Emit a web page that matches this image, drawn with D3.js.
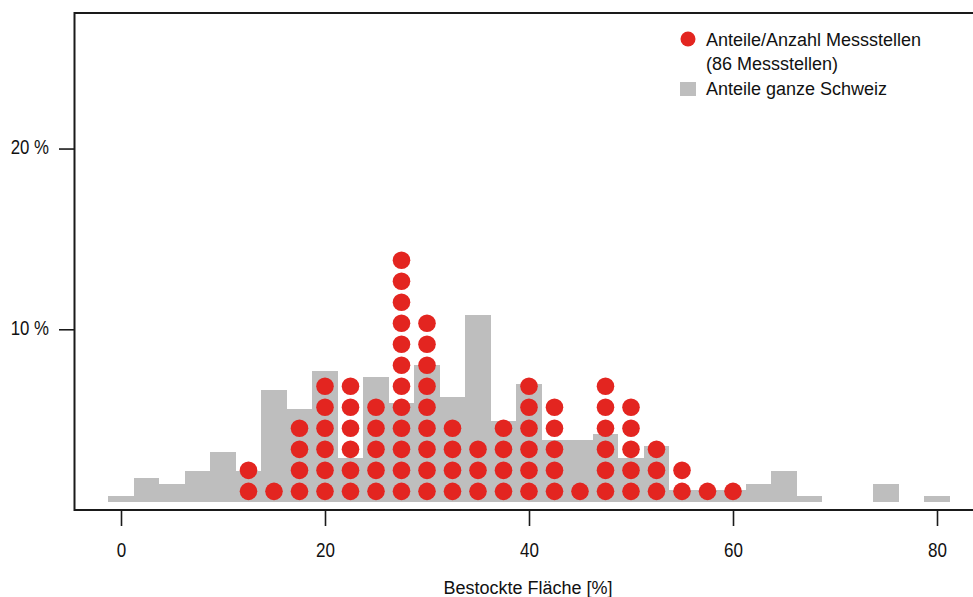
<!DOCTYPE html>
<html>
<head>
<meta charset="utf-8">
<script src="https://cdn.jsdelivr.net/npm/d3@7"></script>
<style>
  body { margin: 0; background: #fff; }
  text { font-family: "Liberation Sans", Arial, sans-serif; fill: #111; }
</style>
</head>
<body>
<div id="chart"></div>
<script>
// shares of the whole country per 2.5% bin of forest cover (bar heights, %)
const binCenters = [0, 2.5, 5, 7.5, 10, 12.5, 15, 17.5, 20, 22.5, 25, 27.5, 30, 32.5, 35, 37.5,
  40, 42.5, 45, 47.5, 50, 52.5, 55, 57.5, 60, 62.5, 65, 67.5, 70, 72.5, 75, 77.5, 80];
const swissShares = [0.32, 1.32, 0.99, 1.71, 2.76, 1.71, 6.19, 5.14, 7.24, 2.44, 6.93, 5.47, 7.57, 5.8, 10.33, 4.48,
  6.52, 3.42, 3.42, 3.76, 2.43, 3.09, 0.65, 0.65, 0.65, 0.99, 1.71, 0.32, 0, 0, 0.99, 0, 0.32];

// number of measuring sites per bin (86 in total)
const siteBins = [12.5, 15, 17.5, 20, 22.5, 25, 27.5, 30, 32.5, 35, 37.5, 40, 42.5, 45, 47.5, 50, 52.5, 55, 57.5, 60];
const siteCounts = [2, 1, 4, 6, 6, 5, 12, 9, 4, 3, 4, 6, 5, 1, 6, 5, 3, 2, 1, 1];
const totalSites = 86;

const xTicks = [0, 20, 40, 60, 80];
const yTicks = [10, 20];

const width = 973, height = 597;
const baseline = 0.45;   // bars and dots start slightly above the box bottom
const binWidth = 2.5;
const red = "#e32520", grey = "#bebebe";

const x = d3.scaleLinear().domain([0, 80]).range([121, 937]);
const y = d3.scaleLinear().domain([0, 27.5]).range([510, 13]);

const svg = d3.select("#chart").append("svg")
  .attr("width", width)
  .attr("height", height);

// squeeze tick labels horizontally (the original font is a narrow one)
function condense(sel, f) {
  sel.each(function () {
    const w = this.getComputedTextLength();
    d3.select(this).attr("textLength", w * f).attr("lengthAdjust", "spacingAndGlyphs");
  });
}

// grey bars
svg.append("g").selectAll("rect")
  .data(binCenters.map((c, i) => ({ c: c, v: swissShares[i] })).filter(d => d.v > 0))
  .enter().append("rect")
  .attr("x", d => x(d.c - binWidth / 2))
  .attr("width", d => x(d.c + binWidth / 2) - x(d.c - binWidth / 2))
  .attr("y", d => y(baseline + d.v))
  .attr("height", d => y(baseline) - y(baseline + d.v))
  .attr("fill", grey)
  .attr("shape-rendering", "crispEdges");

// red dots, one per site
let dots = [];
siteBins.forEach((b, i) => {
  for (let k = 1; k <= siteCounts[i]; k++) dots.push({ b: b, k: k });
});
svg.append("g").selectAll("circle")
  .data(dots)
  .enter().append("circle")
  .attr("cx", d => x(d.b))
  .attr("cy", d => y(baseline + (d.k - 0.5) * 100 / totalSites))
  .attr("r", 8.8)
  .attr("fill", red);

// box
svg.append("path")
  .attr("d", "M980,13H74.5V510H980")
  .attr("fill", "none")
  .attr("stroke", "#1a1a1a")
  .attr("stroke-width", 2);

// x axis
const xAxis = svg.append("g")
  .attr("transform", "translate(0,510)")
  .call(d3.axisBottom(x).tickValues(xTicks).tickSize(16).tickPadding(16).tickFormat(d3.format("d")));
xAxis.select(".domain").remove();
xAxis.selectAll(".tick line").attr("stroke", "#1a1a1a").attr("stroke-width", 1.6);
xAxis.selectAll(".tick text").attr("font-size", 20.5).attr("fill", "#111")
  .attr("font-family", "Liberation Sans, Arial, sans-serif")
  .call(condense, 0.83);

// y axis
const yAxis = svg.append("g")
  .attr("transform", "translate(75,0)")
  .call(d3.axisLeft(y).tickValues(yTicks).tickSize(16).tickPadding(10).tickFormat(d => d + " %"));
yAxis.select(".domain").remove();
yAxis.selectAll(".tick line").attr("stroke", "#1a1a1a").attr("stroke-width", 1.6);
yAxis.selectAll(".tick text").attr("font-size", 20.5).attr("fill", "#111").attr("dy", "0.25em")
  .attr("font-family", "Liberation Sans, Arial, sans-serif")
  .call(condense, 0.82);

// axis title
svg.append("text")
  .attr("x", 528).attr("y", 594)
  .attr("text-anchor", "middle")
  .attr("font-size", 18)
  .text("Bestockte Fläche [%]");

// legend
const legend = svg.append("g");
legend.append("circle").attr("cx", 688).attr("cy", 39).attr("r", 7.5).attr("fill", red);
legend.append("text").attr("x", 706).attr("y", 46).attr("font-size", 18).text("Anteile/Anzahl Messstellen");
legend.append("text").attr("x", 706).attr("y", 70).attr("font-size", 18).text("(86 Messstellen)");
legend.append("rect").attr("x", 680).attr("y", 82).attr("width", 16).attr("height", 14).attr("fill", grey);
legend.append("text").attr("x", 706).attr("y", 95).attr("font-size", 18).text("Anteile ganze Schweiz");
</script>
</body>
</html>
